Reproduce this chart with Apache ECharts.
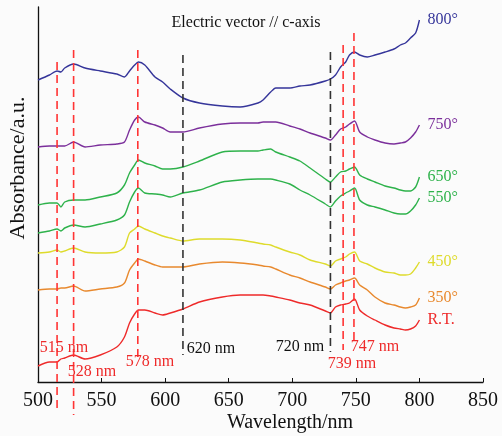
<!DOCTYPE html>
<html lang="en">

<head>
    <meta charset="UTF-8">
    <title>Absorbance spectra</title>
    <script src="https://cdn.jsdelivr.net/npm/echarts@6/dist/echarts.min.js"></script>
    <style>
        html, body { margin: 0; padding: 0; background: #fbfbfb; }
        #chart { width: 502px; height: 436px; }
    </style>
</head>

<body>
    <div id="chart"></div>
    <script>
        // wavelength grid (nm) shared by all spectra
        const wavelength = [500, 509, 515, 518, 521, 528, 537, 549, 562, 568, 572, 576, 579, 584, 592, 598, 604, 614, 627, 645,
            659, 673, 677, 683, 687, 698, 706, 714, 726, 730, 734, 738, 742, 745, 749, 753, 759, 765, 773, 780,
            785, 789, 793, 797, 800];

        // absorbance (a.u., curves offset as in the figure)
        const rt = [0.16, 0.20, 0.20, 0.23, 0.24, 0.27, 0.23, 0.27, 0.35, 0.45, 0.59, 0.68, 0.72, 0.72, 0.69, 0.67, 0.69, 0.73, 0.80, 0.85,
            0.87, 0.87, 0.87, 0.86, 0.85, 0.82, 0.79, 0.77, 0.71, 0.69, 0.75, 0.77, 0.78, 0.79, 0.83, 0.72, 0.66, 0.62, 0.57, 0.54,
            0.53, 0.52, 0.53, 0.56, 0.62];
        const t350 = [0.92, 0.93, 0.93, 0.94, 0.94, 0.96, 0.91, 0.93, 0.95, 0.99, 1.12, 1.19, 1.23, 1.21, 1.17, 1.15, 1.15, 1.15, 1.18, 1.20,
            1.19, 1.17, 1.16, 1.15, 1.13, 1.07, 1.04, 1.00, 0.95, 0.93, 0.97, 0.99, 1.01, 1.02, 1.04, 0.97, 0.92, 0.85, 0.79, 0.77,
            0.75, 0.74, 0.75, 0.77, 0.84];
        const t450 = [1.29, 1.30, 1.32, 1.30, 1.31, 1.34, 1.30, 1.29, 1.30, 1.35, 1.49, 1.53, 1.56, 1.53, 1.49, 1.46, 1.44, 1.41, 1.43, 1.43,
            1.42, 1.39, 1.38, 1.37, 1.35, 1.30, 1.27, 1.22, 1.18, 1.16, 1.21, 1.23, 1.25, 1.28, 1.30, 1.21, 1.18, 1.14, 1.10, 1.09,
            1.07, 1.07, 1.08, 1.14, 1.20];
        const t550 = [1.49, 1.51, 1.53, 1.51, 1.54, 1.57, 1.55, 1.58, 1.62, 1.67, 1.80, 1.90, 1.94, 1.89, 1.88, 1.87, 1.85, 1.89, 1.92, 2.00,
            2.02, 2.03, 2.03, 2.03, 2.02, 1.98, 1.92, 1.87, 1.78, 1.75, 1.81, 1.86, 1.89, 1.91, 1.94, 1.82, 1.77, 1.75, 1.72, 1.69,
            1.68, 1.68, 1.71, 1.77, 1.84];
        const t650 = [1.77, 1.79, 1.79, 1.75, 1.80, 1.82, 1.82, 1.85, 1.89, 1.97, 2.09, 2.17, 2.22, 2.19, 2.16, 2.13, 2.13, 2.15, 2.21, 2.30,
            2.31, 2.31, 2.32, 2.33, 2.30, 2.25, 2.21, 2.14, 2.03, 2.00, 2.05, 2.10, 2.11, 2.13, 2.15, 2.07, 2.03, 2.00, 1.96, 1.94,
            1.92, 1.91, 1.91, 1.95, 2.05];
        const t750 = [2.35, 2.36, 2.36, 2.36, 2.36, 2.40, 2.35, 2.37, 2.38, 2.40, 2.52, 2.62, 2.65, 2.60, 2.57, 2.54, 2.50, 2.50, 2.54, 2.58,
            2.59, 2.59, 2.60, 2.60, 2.60, 2.56, 2.53, 2.49, 2.44, 2.42, 2.47, 2.53, 2.55, 2.58, 2.61, 2.50, 2.45, 2.42, 2.39, 2.38,
            2.39, 2.40, 2.44, 2.50, 2.57];
        const t800 = [3.02, 3.07, 3.11, 3.10, 3.14, 3.18, 3.14, 3.11, 3.08, 3.05, 3.11, 3.17, 3.20, 3.17, 3.05, 3.00, 2.93, 2.84, 2.79, 2.76,
            2.75, 2.79, 2.82, 2.90, 2.94, 2.94, 2.96, 2.97, 3.01, 3.03, 3.07, 3.15, 3.20, 3.27, 3.30, 3.27, 3.25, 3.27, 3.30, 3.33,
            3.37, 3.39, 3.44, 3.49, 3.62];

        const seriesNames = ['R.T.', '350°', '450°', '550°', '650°', '750°', '800°'];
        const seriesValues = [rt, t350, t450, t550, t650, t750, t800];
        const seriesColors = ['#ee2a2a', '#e8892e', '#dedb2c', '#2eb24b', '#2eb24b', '#7b2f9b', '#35359a'];

        // dashed marker lines: position as drawn, extent in a.u.
        const markerNm = [515, 528, 578.5, 614, 730, 740, 748.5];
        const markerTop = [3.20, 3.32, 3.32, 3.27, 3.30, 3.37, 3.49];
        const markerBottom = [-0.31, -0.33, 0.25, 0.27, 0.30, 0.32, 0.40];
        const markerRed = [true, true, true, false, false, true, true];

        const peakLabels = ['515 nm', '528 nm', '578 nm', '620 nm', '720 nm', '739 nm', '747 nm'];

        var chartDom = document.getElementById('chart');
        var myChart = echarts.init(chartDom);
        var serif = 'Liberation Serif';

        var series = [];
        seriesNames.forEach(function (name, i) {
            series.push({
                name: name,
                type: 'line',
                showSymbol: false,
                smooth: 0.25,
                data: wavelength.map(function (w, j) { return [w, seriesValues[i][j]]; }),
                lineStyle: { color: seriesColors[i], width: 1.4 },
                itemStyle: { color: seriesColors[i] },
                endLabel: {
                    show: true,
                    formatter: name,
                    color: seriesColors[i],
                    fontFamily: serif,
                    fontSize: 16,
                    distance: 8
                },
                z: 2
            });
        });

        markerNm.forEach(function (nm, i) {
            series.push({
                type: 'line',
                showSymbol: false,
                silent: true,
                clip: false,
                data: [[nm, markerTop[i]], [nm, markerBottom[i]]],
                lineStyle: {
                    color: markerRed[i] ? '#ff3434' : '#333333',
                    width: 1.6,
                    type: [8, 5]
                },
                z: 3
            });
        });

        // label positions (px)
        const labelPos = [[64, 348], [92, 372], [150, 362], [211, 349], [300, 347], [352, 364], [375, 347]];
        var graphics = peakLabels.map(function (t, i) {
            return {
                type: 'text',
                x: labelPos[i][0],
                y: labelPos[i][1],
                style: {
                    text: t,
                    fill: markerRed[i] ? '#ee2a2a' : '#111111',
                    font: '16px "Liberation Serif"',
                    textAlign: 'center',
                    textVerticalAlign: 'middle'
                },
                z: 10
            };
        });
        graphics.push({
            type: 'text', x: 246, y: 23,
            style: { text: 'Electric vector // c-axis', fill: '#111', font: '16px "Liberation Serif"', textAlign: 'center', textVerticalAlign: 'middle' }
        });
        graphics.push({
            type: 'text', x: 18, y: 168, rotation: Math.PI / 2,
            style: { text: 'Absorbance/a.u.', fill: '#111', font: '22px "Liberation Serif"', textAlign: 'center', textVerticalAlign: 'middle' }
        });
        graphics.push({
            type: 'text', x: 290, y: 423,
            style: { text: 'Wavelength/nm', fill: '#111', font: '20px "Liberation Serif"', textAlign: 'center', textVerticalAlign: 'middle' }
        });

        var option = {
            backgroundColor: '#fbfbfb',
            animation: false,
            grid: { left: 38, right: 19, top: 7, bottom: 54, containLabel: false },
            xAxis: {
                type: 'value',
                min: 500,
                max: 850,
                interval: 50,
                axisLine: { lineStyle: { color: '#111', width: 1.3 } },
                axisTick: { inside: true, length: 4, lineStyle: { color: '#111' } },
                axisLabel: { color: '#111', fontFamily: serif, fontSize: 20, margin: 9 },
                splitLine: { show: false }
            },
            yAxis: {
                type: 'value',
                min: 0,
                max: 3.75,
                axisLine: { show: true, lineStyle: { color: '#111', width: 1.3 } },
                axisTick: { show: false },
                axisLabel: { show: false },
                splitLine: { show: false }
            },
            graphic: graphics,
            series: series
        };

        option && myChart.setOption(option);
    </script>

</body>

</html>
